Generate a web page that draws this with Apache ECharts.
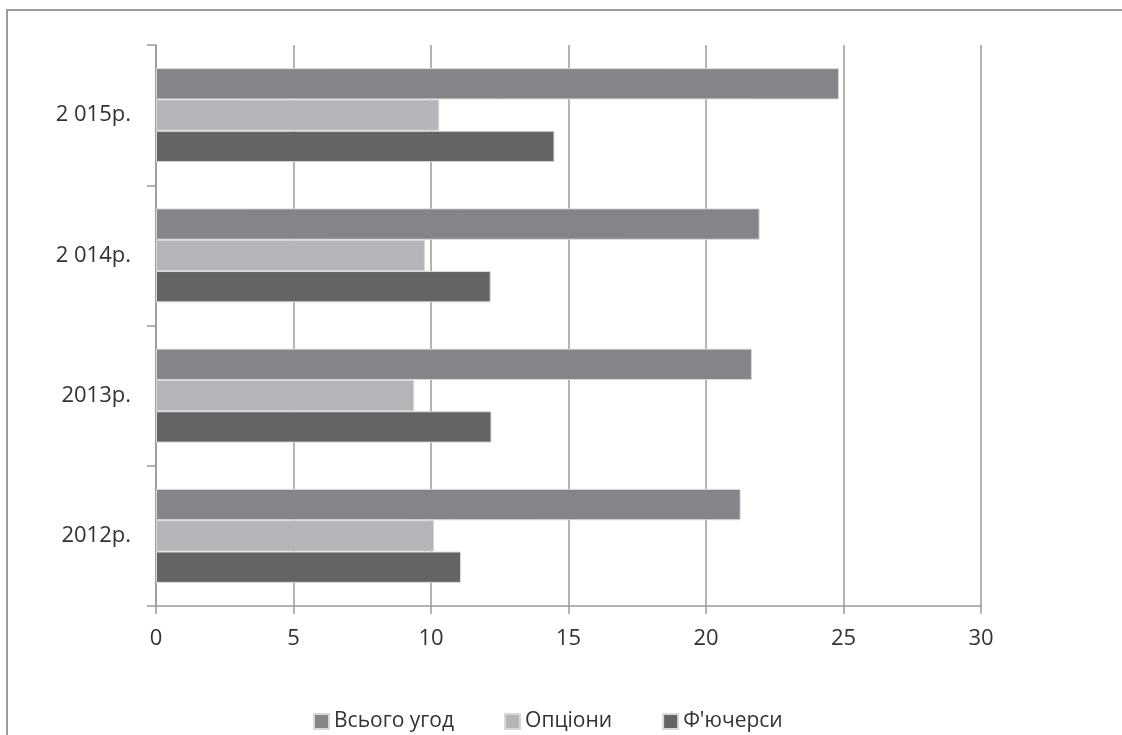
<!DOCTYPE html>
<html>
<head>
<meta charset="utf-8">
<script src="https://cdn.jsdelivr.net/npm/echarts@6/dist/echarts.min.js"></script>
<style>
  html, body { margin: 0; padding: 0; background: #fff; }
  #chart { width: 1122px; height: 735px; }
</style>
</head>
<body>
<div id="chart"></div>
<script>
// Years on the category axis (bottom to top)
const years = ['2012р.', '2013р.', '2 014р.', '2 015р.'];

// Series values, one per year
const totalDeals = [21.26, 21.67, 21.95, 24.84];   // Всього угод
const options = [10.11, 9.39, 9.78, 10.30];        // Опціони
const futures = [11.09, 12.20, 12.17, 14.49];      // Ф'ючерси

// Value axis ticks
const xMin = 0, xMax = 30, xStep = 5;

const seriesNames = ['Всього угод', 'Опціони', "Ф'ючерси"];
const seriesColors = ['#848589', '#b4b5b9', '#646466'];
const seriesData = [totalDeals, options, futures];

const font = '"Open Sans", "DejaVu Sans", sans-serif';

const chart = echarts.init(document.getElementById('chart'), null, { renderer: 'canvas' });

chart.setOption({
  animation: false,
  backgroundColor: '#ffffff',
  graphic: [{
    type: 'rect',
    shape: { x: 7, y: 10, width: 1300, height: 900 },
    style: { fill: 'none', stroke: '#9a9a9a', lineWidth: 2 },
    silent: true
  }],
  grid: { left: 156, right: 141, top: 45, bottom: 129, containLabel: false },
  legend: {
    data: seriesNames,
    top: 706,
    left: 308,
    itemWidth: 15,
    itemHeight: 15,
    itemGap: 50,
    icon: 'rect',
    textStyle: { fontFamily: font, fontSize: 21, color: '#333' }
  },
  xAxis: {
    type: 'value',
    min: xMin,
    max: xMax,
    interval: xStep,
    axisLine: { show: true, lineStyle: { color: '#9a9a9a', width: 1.5 } },
    axisTick: { show: true, length: 8, lineStyle: { color: '#9a9a9a', width: 1.5 } },
    axisLabel: { fontFamily: font, fontSize: 22, color: '#333', margin: 22 },
    splitLine: { show: true, lineStyle: { color: '#9a9a9a', width: 1.5 } }
  },
  yAxis: {
    type: 'category',
    data: years,
    boundaryGap: true,
    axisLine: { show: true, lineStyle: { color: '#9a9a9a', width: 1.5 } },
    axisTick: { show: true, length: 9, lineStyle: { color: '#9a9a9a', width: 1.5 } },
    axisLabel: { fontFamily: font, fontSize: 22, color: '#333', margin: 25 },
    splitLine: { show: false }
  },
  series: seriesNames.map((name, i) => ({
    name: name,
    type: 'bar',
    data: seriesData[i],
    barGap: '0%',
    barCategoryGap: '33%',
    itemStyle: { color: seriesColors[i], borderColor: '#d8d8d8', borderWidth: 1 }
  }))
});
</script>
</body>
</html>
